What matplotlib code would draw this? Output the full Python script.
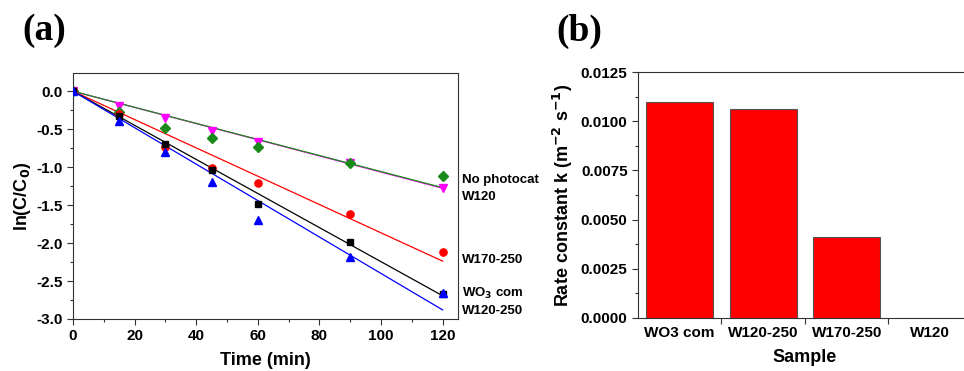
import matplotlib
matplotlib.use("Agg")
import matplotlib.pyplot as plt
import numpy as np
from matplotlib.ticker import MultipleLocator, FixedLocator, FormatStrFormatter

plt.rcParams["font.family"] = ["Liberation Sans", "DejaVu Sans"]
plt.rcParams["font.weight"] = "bold"
plt.rcParams["mathtext.default"] = "bf"

# ---------------------------------------------------------------------------
# Data (a): ln(C/C0) vs time
# ---------------------------------------------------------------------------
time_min = [0, 15, 30, 45, 60, 90, 120]
wo3_com = [0.0, -0.33, -0.69, -1.04, -1.49, -1.98, -2.67]
w120_250 = [0.0, -0.39, -0.80, -1.19, -1.70, -2.18, -2.66]
w170_250 = [0.0, -0.30, -0.73, -1.01, -1.21, -1.62, -2.12]
no_photocat = [0.0, -0.28, -0.48, -0.62, -0.74, -0.95, -1.12]
w120 = [0.0, -0.19, -0.35, -0.52, -0.67, -0.94, -1.27]

# fitted slopes of the linear fits (ln(C/C0) per min)
slope_wo3_com = -0.02245
slope_w120_250 = -0.0240
slope_w170_250 = -0.01865
slope_no_photocat = -0.01058
slope_w120 = -0.01065
fit_range = [0, 120]

# ---------------------------------------------------------------------------
# Data (b): rate constants
# ---------------------------------------------------------------------------
samples = ["WO3 com", "W120-250", "W170-250", "W120"]
rate_k = [0.01096, 0.01060, 0.00413, 0.00002]

fig = plt.figure(figsize=(9.64, 3.71), dpi=100)


def style_axes(a):
    a.tick_params(which="major", direction="out", length=4, width=0.8,
                  labelsize=11, color="#333333")
    a.tick_params(which="minor", direction="out", length=2.5, width=0.8,
                  color="#333333")
    for sp in a.spines.values():
        sp.set_color("#333333")
        sp.set_linewidth(0.8)


# ---------------------------- panel (a) ------------------------------------
ax = fig.add_axes([0.0757, 0.1402, 0.3994, 0.663])
series = [
    (w120, slope_w120, "#ff00ff", "v"),
    (no_photocat, slope_no_photocat, "#1a8a1a", "D"),
    (w170_250, slope_w170_250, "#ff0000", "o"),
    (wo3_com, slope_wo3_com, "black", "s"),
    (w120_250, slope_w120_250, "#0000ff", "^"),
]
xf = np.array(fit_range, dtype=float)
for vals, k, col, mk in series:
    ax.plot(xf, k * xf, color=col, lw=0.9, zorder=2)
    ms = {"D": 4.8, "s": 4.8, "o": 5.2}.get(mk, 5.8)
    ax.plot(time_min, vals, ls="none", marker=mk, ms=ms, color=col,
            markeredgecolor=col, zorder=3)

# labels on the right of the panel
label_text = ["No photocat", "W120", "W170-250", "WO$_3$ com", "W120-250"]
label_y = [-1.17, -1.39, -2.22, -2.66, -2.89]
for t, yy in zip(label_text, label_y):
    ax.text(126.2, yy, t, fontsize=9.5, fontweight="bold", ha="left",
            va="center", clip_on=False)

ax.set_xlim(0, 125)
ax.set_ylim(-3.0, 0.24)
ax.xaxis.set_minor_locator(MultipleLocator(10))
ax.yaxis.set_minor_locator(MultipleLocator(0.25))
xt = np.arange(0, 121, 20)
yt = np.arange(-3.0, 0.01, 0.5)
ax.set_xticks(xt)
ax.set_xticklabels([str(v) for v in xt], fontweight="bold")
ax.set_yticks(yt)
ax.set_yticklabels([f"{v:.1f}" for v in yt], fontweight="bold")
style_axes(ax)
ax.set_xlabel("Time (min)", fontsize=13, fontweight="bold", labelpad=6)
ax.set_ylabel("ln(C/C$_0$)", fontsize=13, fontweight="bold", labelpad=2)

fig.text(22 / 964, 1 - 31 / 371, "(a)", fontsize=27, fontweight="bold",
         family="Liberation Serif", ha="left", va="center")

# ---------------------------- panel (b) ------------------------------------
bx = fig.add_axes([0.6618, 0.1429, 0.3465, 0.663])
pos = np.arange(len(samples))
bx.bar(pos, rate_k, width=0.8, color="#ff0000", edgecolor="#555555",
       linewidth=0.8, zorder=2)
bx.set_xlim(-0.5, len(samples) - 0.5)
bx.set_ylim(0, 0.0125)
bx.set_xticks(pos)
bx.set_xticklabels(samples, fontweight="bold")
bx.xaxis.set_minor_locator(FixedLocator(pos[:-1] + 0.5))
kt = np.arange(0, 0.01251, 0.0025)
bx.set_yticks(kt)
bx.set_yticklabels([f"{v:.4f}" for v in kt], fontweight="bold")
bx.yaxis.set_minor_locator(MultipleLocator(0.00125))
style_axes(bx)
bx.tick_params(axis="x", which="major", length=0, pad=6)
bx.tick_params(axis="x", which="minor", length=4)
bx.set_xlabel("Sample", fontsize=13, fontweight="bold", labelpad=6)
bx.set_ylabel("Rate constant k (m$^{-2}$ s$^{-1}$)",
              fontsize=13, fontweight="bold", labelpad=4)

fig.text(556 / 964, 1 - 31 / 371, "(b)", fontsize=27, fontweight="bold",
         family="Liberation Serif", ha="left", va="center")

fig.savefig("out.png", dpi=100)
